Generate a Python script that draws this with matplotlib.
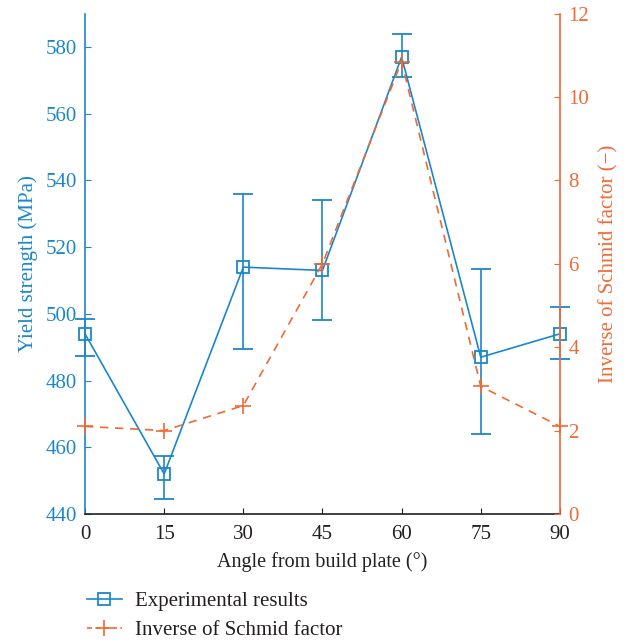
import matplotlib.pyplot as plt
from matplotlib.lines import Line2D

# data
angles = [0, 15, 30, 45, 60, 75, 90]
yield_strength = [494, 452, 514, 513, 577, 487, 494]
err_low = [6.5, 7.5, 24.5, 15, 6, 23, 7.5]
err_high = [4.5, 5.5, 22, 21, 7, 26.5, 8]
inv_schmid = [2.1, 2.0, 2.6, 6.0, 10.85, 3.06, 2.1]

blue = '#1b87c9'
orange = '#f06a35'
dark = '#231f20'

plt.rcParams['font.family'] = 'Liberation Serif'
plt.rcParams['font.size'] = 15

fig = plt.figure(figsize=(6.27, 6.44), dpi=100)
ax = fig.add_axes([0.1356, 0.2019, 0.7574, 0.7770])
ax2 = ax.twinx()

ax.errorbar(angles, yield_strength, yerr=[err_low, err_high], color=blue,
            marker='s', ms=9, mfc='none', mew=1.3, lw=1.2, capsize=7,
            elinewidth=1.2, capthick=1.2, clip_on=False, zorder=3)
ax2.plot(angles, inv_schmid, color=orange, ls='--', dashes=(5, 4), lw=1.2,
         marker='+', ms=12, mew=1.2, clip_on=False)

ax.set_xlim(0, 90)
ax.set_xticks(angles)
ax.set_ylim(440, 590)
ax.set_yticks(range(440, 581, 20))
ax2.set_ylim(0, 12)
ax2.set_yticks(range(0, 13, 2))

ax.set_xlabel('Angle from build plate (°)', color=dark, fontsize=14.5, labelpad=6)
ax.set_ylabel('Yield strength (MPa)', color=blue, labelpad=5)
ax2.set_ylabel('Inverse of Schmid factor (−)', color=orange, labelpad=7)

for a in (ax, ax2):
    a.spines['top'].set_visible(False)
ax.spines['right'].set_visible(False)
ax.spines['left'].set_color(blue)
ax2.spines['left'].set_visible(False)
ax2.spines['right'].set_color(orange)
ax.spines['bottom'].set_color(dark)
ax2.spines['bottom'].set_visible(False)
for s in ('left', 'bottom'):
    ax.spines[s].set_linewidth(1.2)
ax2.spines['right'].set_linewidth(1.2)

ax.tick_params(axis='x', direction='in', length=4, colors=dark, pad=8)
ax.tick_params(axis='y', direction='in', length=4, colors=blue, pad=6)
ax2.tick_params(axis='y', direction='in', length=4, colors=orange, pad=6)

handles = [
    Line2D([], [], color=blue, marker='s', ms=9, mfc='none', mew=1.3, lw=1.2),
    Line2D([], [], color=orange, ls='--', dashes=(3, 2), marker='+', ms=12, mew=1.2, lw=1.2),
]
leg = fig.legend(handles, ['Experimental results', 'Inverse of Schmid factor'],
                 loc='upper left', bbox_to_anchor=(0.125, 0.094), frameon=False,
                 handlelength=1.7, handletextpad=0.6, labelspacing=0.45, borderaxespad=0)
for t in leg.get_texts():
    t.set_color(dark)

fig.savefig('out.png', dpi=100)
